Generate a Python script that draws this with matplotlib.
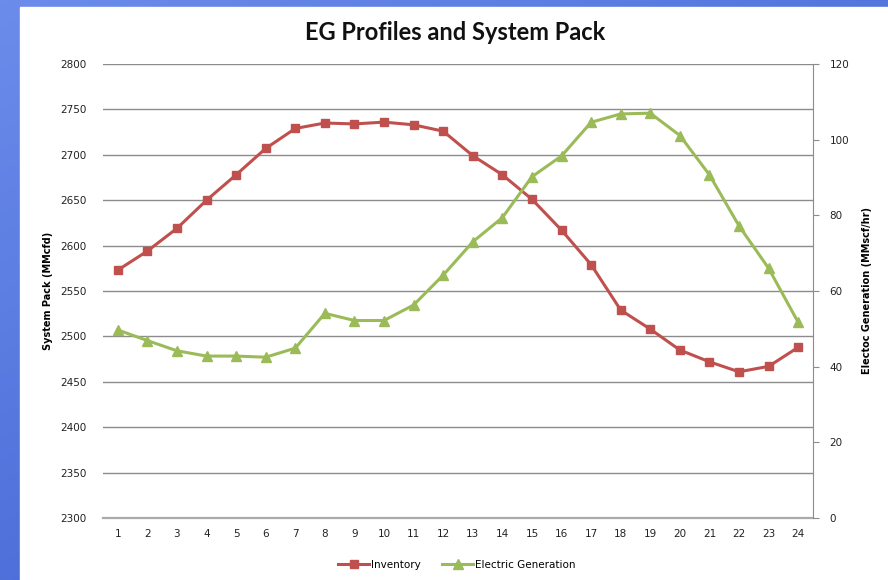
import numpy as np
import matplotlib
matplotlib.use("Agg")
import matplotlib.pyplot as plt
from matplotlib.patches import Rectangle

hours = list(range(1, 25))
inventory = [2573, 2594, 2619, 2650, 2678, 2707, 2729, 2735, 2734, 2736, 2733, 2726,
             2699, 2678, 2651, 2617, 2579, 2529, 2508, 2485, 2472, 2461, 2467, 2488]
electric_gen = [49.7, 46.9, 44.2, 42.8, 42.8, 42.5, 44.9, 54.1, 52.2, 52.2, 56.3, 64.2,
                73.0, 79.4, 90.2, 95.7, 104.6, 106.8, 107.0, 101.1, 90.7, 77.2, 66.0, 51.7]

RED = "#C0504D"
GREEN = "#9BBB59"
GRID = "#8C8C8C"

fig = plt.figure(figsize=(8.88, 5.80), dpi=100)

# blue slide background with gradient
bg = fig.add_axes([0, 0, 1, 1], zorder=-10)
gx, gy = np.meshgrid(np.linspace(0, 1, 200), np.linspace(0, 1, 200))
c1 = np.array([0.42, 0.55, 0.92])
c2 = np.array([0.22, 0.35, 0.80])
t = np.clip(0.55 * gy + 0.45 * gx, 0, 1)[..., None]
bg.imshow(c1 * (1 - t) + c2 * t, aspect="auto", extent=[0, 1, 0, 1], origin="upper")
bg.add_patch(Rectangle((20 / 888, 0), 1, (580 - 7) / 580, color="white",
                       transform=bg.transAxes))
bg.set_xlim(0, 1)
bg.set_ylim(0, 1)
bg.axis("off")

ax = fig.add_axes([103 / 888, 62 / 580, 710 / 888, 454 / 580])
ax.set_facecolor("none")
ax2 = ax.twinx()

ax.set_xlim(0.5, 24.5)
ax.set_ylim(2300, 2800)
ax.set_yticks(range(2300, 2801, 50))
ax.set_xticks(hours)
ax.grid(axis="y", color=GRID, linewidth=1.0)
ax.set_axisbelow(True)
ax.tick_params(axis="both", length=0, labelsize=7.5, colors="#222222")
ax.tick_params(axis="x", pad=8)
ax.tick_params(axis="y", pad=12)
for s in ["left", "top", "right"]:
    ax.spines[s].set_visible(False)
ax.spines["bottom"].set_color("#AAAAAA")
ax.spines["bottom"].set_linewidth(1.6)

ax2.set_ylim(0, 120)
ax2.set_yticks(range(0, 121, 20))
ax2.tick_params(axis="y", direction="out", length=4, labelsize=7.5, pad=8,
                colors=GRID, labelcolor="#222222")
for s in ["left", "top", "bottom"]:
    ax2.spines[s].set_visible(False)
ax2.spines["right"].set_color(GRID)

l1, = ax.plot(hours, inventory, color=RED, linewidth=2.2, marker="s", markersize=6,
              label="Inventory", zorder=3)
l2, = ax2.plot(hours, electric_gen, color=GREEN, linewidth=2.2, marker="^", markersize=7.5,
               label="Electric Generation", zorder=3)

ax.set_ylabel("System Pack (MMcfd)", fontsize=7, fontweight="bold", labelpad=5)
ax2.set_ylabel("Electoc Generation (MMscf/hr)", fontsize=7, fontweight="bold", labelpad=9)

fig.text(455 / 888, 1 - 33 / 580, "EG Profiles and System Pack", ha="center", va="center",
         fontsize=17, fontweight="bold", family="Lato", color="#111111")

fig.legend(handles=[l1, l2], loc="center", bbox_to_anchor=(457 / 888, 1 - 565 / 580),
           ncol=2, frameon=False, fontsize=7.5, handlelength=3, columnspacing=2,
           handletextpad=0.2)

fig.savefig("out.png", dpi=100)
